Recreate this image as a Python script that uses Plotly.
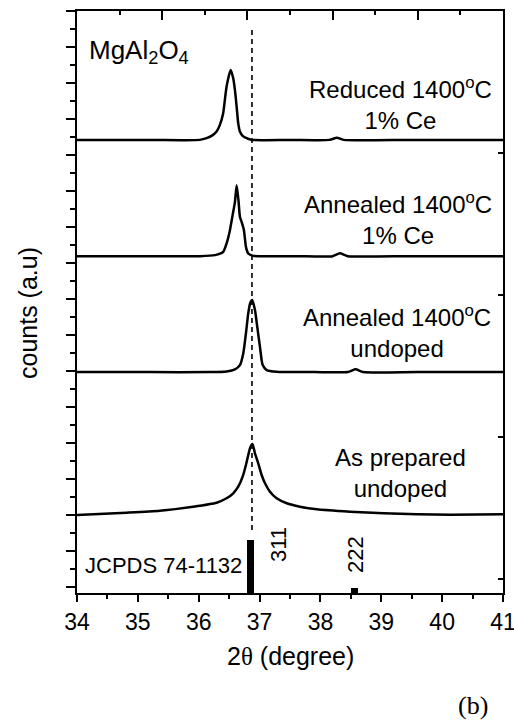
import plotly.graph_objects as go

# ---- XRD patterns (2theta in degrees, intensity in a.u. above each baseline) ----
tt_reduced_ce = [34.000, 35.200, 36.019, 36.129, 36.212, 36.294, 36.348, 36.402, 36.430,
                 36.458, 36.524, 36.567, 36.595, 36.623, 36.649, 36.677, 36.722, 36.788,
                 36.870, 37.500, 38.150, 38.270, 38.380, 39.500, 41.000]
i_reduced_ce = [0.000, 0.000, 0.000, 0.047, 0.111, 0.231, 0.417, 0.742, 1.111,
                1.481, 1.944, 1.714, 1.389, 0.925, 0.464, 0.231, 0.111, 0.047,
                0.000, 0.000, 0.000, 0.060, 0.000, 0.000, 0.000]

tt_annealed_ce = [34.000, 35.200, 36.019, 36.266, 36.402, 36.458, 36.513, 36.557, 36.595,
                  36.623, 36.653, 36.677, 36.705, 36.743, 36.776, 36.814, 36.896, 37.006,
                  37.600, 38.200, 38.320, 38.450, 39.500, 41.000]
i_annealed_ce = [0.000, 0.000, 0.000, 0.028, 0.119, 0.353, 0.722, 1.139, 1.500,
                 1.972, 1.556, 1.094, 0.953, 0.722, 0.258, 0.075, 0.008, 0.000,
                 0.000, 0.000, 0.080, 0.000, 0.000, 0.000]

tt_annealed_un = [34.000, 35.200, 36.184, 36.458, 36.595, 36.677, 36.732, 36.776, 36.814,
                  36.847, 36.880, 36.924, 36.962, 37.006, 37.051, 37.117, 37.281, 37.900,
                  38.450, 38.580, 38.700, 39.600, 41.000]
i_annealed_un = [0.000, 0.000, 0.000, 0.019, 0.075, 0.194, 0.519, 1.075, 1.631,
                 1.917, 2.000, 1.722, 1.258, 0.703, 0.194, 0.056, 0.008, 0.000,
                 0.000, 0.075, 0.000, 0.000, 0.000]

tt_prepared_un = [34.000, 34.813, 35.361, 35.909, 36.294, 36.458, 36.567, 36.649, 36.722,
                  36.776, 36.814, 36.850, 36.883, 36.924, 36.978, 37.034, 37.089, 37.171,
                  37.281, 37.446, 37.665, 37.939, 38.487, 39.035, 39.585, 40.133, 41.000]
i_prepared_un = [0.000, 0.064, 0.119, 0.231, 0.342, 0.464, 0.603, 0.786, 1.064,
                 1.389, 1.667, 1.889, 1.972, 1.714, 1.436, 1.111, 0.881, 0.647,
                 0.464, 0.325, 0.231, 0.158, 0.092, 0.047, 0.019, 0.008, 0.019]

# vertical stacking offsets of each pattern
offset_reduced_ce = 12.42
offset_annealed_ce = 9.19
offset_annealed_un = 5.97
offset_prepared_un = 2.00

# JCPDS 74-1132 reference lines
jcpds_2theta = [36.853, 38.558]
jcpds_rel_int = [100, 10]
jcpds_hkl = ["311", "222"]
jcpds_base = -0.167
jcpds_scale = 1.472 / 100

ref_peak = 36.875          # dashed guide at the (311) position
guide_span = [1.58, 15.47]

x_ticks = [34, 35, 36, 37, 38, 39, 40, 41]

FONT = "Liberation Sans"
SERIF = "Liberation Serif"

fig = go.Figure()

patterns = [
    (tt_reduced_ce, i_reduced_ce, offset_reduced_ce),
    (tt_annealed_ce, i_annealed_ce, offset_annealed_ce),
    (tt_annealed_un, i_annealed_un, offset_annealed_un),
    (tt_prepared_un, i_prepared_un, offset_prepared_un),
]
for tt, inten, off in patterns:
    fig.add_trace(go.Scatter(
        x=tt, y=[v + off for v in inten], mode="lines",
        line=dict(color="black", width=2.5, shape="spline", smoothing=0.6),
        showlegend=False, hoverinfo="skip"))

fig.add_trace(go.Scatter(
    x=[ref_peak, ref_peak], y=guide_span, mode="lines",
    line=dict(color="black", width=1.6, dash="5px,4px"),
    showlegend=False, hoverinfo="skip"))

fig.add_trace(go.Bar(
    x=jcpds_2theta, y=[v * jcpds_scale for v in jcpds_rel_int], base=jcpds_base,
    width=0.11, marker=dict(color="black", line=dict(width=0)),
    showlegend=False, hoverinfo="skip"))

# empty trace that carries the top/right frame axes
fig.add_trace(go.Scatter(x=[], y=[], xaxis="x2", yaxis="y2", showlegend=False))

axis_line = dict(showline=True, linecolor="black", linewidth=2, zeroline=False,
                 showgrid=False, automargin=False)

fig.update_layout(
    width=514, height=722,
    margin=dict(l=77, r=11, t=11, b=129),
    paper_bgcolor="white", plot_bgcolor="white",
    font=dict(family=FONT, color="black"),
    bargap=0,
    xaxis=dict(range=[34, 41], tickvals=x_ticks, ticks="outside", ticklen=7,
               tickwidth=2, tickcolor="black", ticklabeloverflow="allow",
               tickfont=dict(size=23, family=FONT, color="black"),
               minor=dict(dtick=0.5, ticks="outside", ticklen=4, tickwidth=2,
                          tickcolor="black"),
               **axis_line),
    yaxis=dict(range=[-0.167, 16], dtick=1, tick0=0, ticks="outside", ticklen=9,
               tickwidth=2, tickcolor="black", showticklabels=False,
               minor=dict(dtick=0.5, ticks="outside", ticklen=5, tickwidth=2,
                          tickcolor="black"),
               **axis_line),
    xaxis2=dict(range=[0, 5], overlaying="x", side="top", anchor="y",
                tickvals=[0, 1, 2, 3, 4, 5], ticks="inside", ticklen=9, tickwidth=2,
                tickcolor="black", showticklabels=False,
                minor=dict(dtick=0.5, ticks="inside", ticklen=4, tickwidth=2,
                           tickcolor="black"),
                **axis_line),
    yaxis2=dict(range=[-0.0986, 4], overlaying="y", side="right", anchor="x",
                tickvals=[0, 1, 2, 3], ticks="inside", ticklen=5, tickwidth=2,
                tickcolor="black", showticklabels=False, **axis_line),
)


def px_x(px):
    return (px - 77) / 426


def px_y(py):
    return (593 - py) / 582


annotations = [
    dict(text='2<span style="font-family:Liberation Serif">θ</span> (degree)',
         x=px_x(290), y=px_y(656), size=25),
    dict(text="counts (a.u)", x=px_x(28), y=px_y(313), size=25, textangle=-90),
    dict(text="(b)", x=px_x(473), y=px_y(705), size=26, family=SERIF),
    dict(text="MgAl<sub>2</sub>O<sub>4</sub>", x=px_x(139), y=px_y(52), size=26),
    dict(text="Reduced 1400<sup>o</sup>C<br>1% Ce", x=px_x(400), y=px_y(104), size=24),
    dict(text="Annealed 1400<sup>o</sup>C<br>1% Ce", x=px_x(398), y=px_y(219), size=24),
    dict(text="Annealed 1400<sup>o</sup>C<br>undoped", x=px_x(397), y=px_y(331), size=24),
    dict(text="As prepared<br>undoped", x=px_x(400), y=px_y(473), size=24),
    dict(text="JCPDS 74-1132", x=px_x(163), y=px_y(565), size=22),
    dict(text=jcpds_hkl[0], x=px_x(278), y=px_y(545), size=22, textangle=-90),
    dict(text=jcpds_hkl[1], x=px_x(355), y=px_y(555), size=22, textangle=-90),
]
for a in annotations:
    fig.add_annotation(
        text=a["text"], x=a["x"], y=a["y"], xref="paper", yref="paper",
        xanchor="center", yanchor="middle", showarrow=False,
        textangle=a.get("textangle", 0),
        font=dict(size=a["size"], family=a.get("family", FONT), color="black"))

fig.write_html("out.html")
